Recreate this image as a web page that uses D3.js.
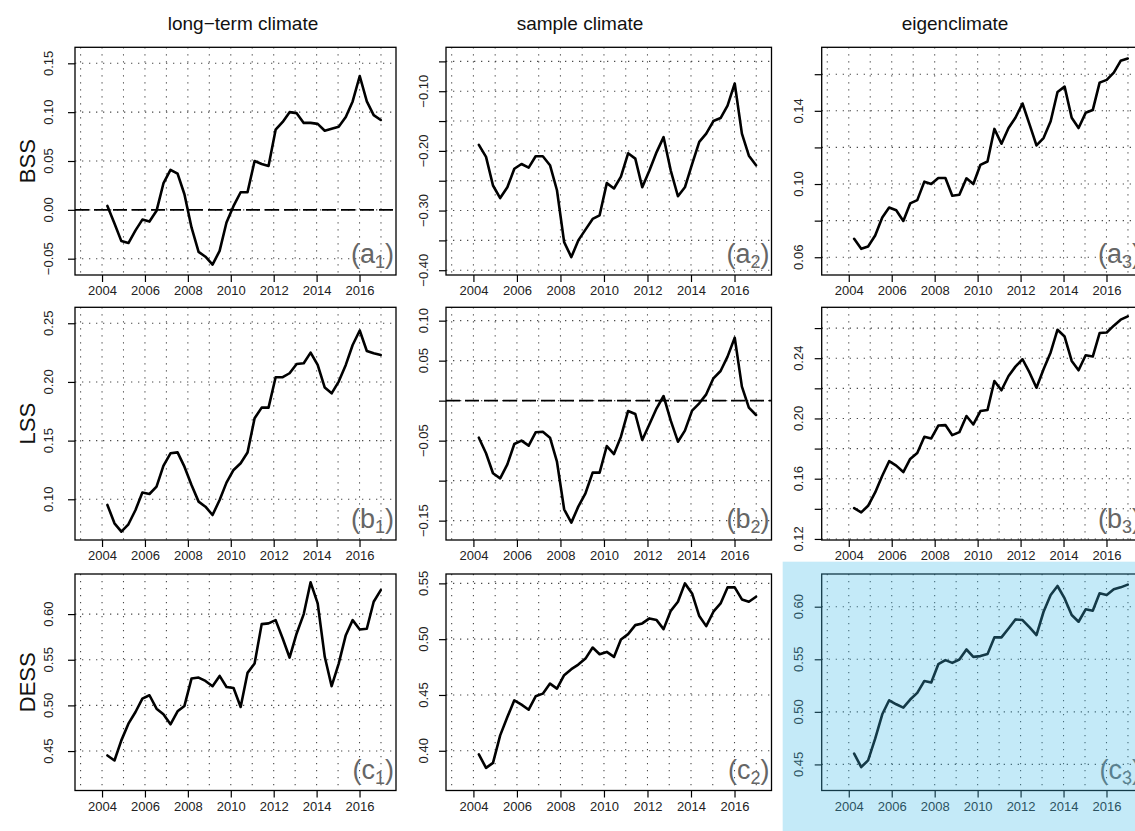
<!DOCTYPE html>
<html>
<head>
<meta charset="utf-8">
<script src="https://cdn.jsdelivr.net/npm/d3@7"></script>
<style>
  html, body { margin: 0; padding: 0; background: #fff; }
  svg { display: block; font-family: "Liberation Sans", Arial, Helvetica, sans-serif; }
</style>
</head>
<body>
<svg id="chart" width="1135" height="831"></svg>
<script>
// Time stamps of the skill scores (decimal years)
const years = [2004.25, 2004.58, 2004.90, 2005.23, 2005.56, 2005.88, 2006.21, 2006.54, 2006.86, 2007.19,
               2007.52, 2007.84, 2008.17, 2008.50, 2008.82, 2009.15, 2009.48, 2009.80, 2010.13, 2010.46,
               2010.78, 2011.11, 2011.44, 2011.76, 2012.09, 2012.42, 2012.74, 2013.07, 2013.40, 2013.72,
               2014.05, 2014.38, 2014.70, 2015.03, 2015.36, 2015.68, 2016.01, 2016.34, 2016.66, 2016.99];

// Brier skill score
const bssLong = [0.004, -0.014, -0.032, -0.034, -0.021, -0.010, -0.012, -0.001, 0.027, 0.041,
                 0.037, 0.016, -0.018, -0.043, -0.048, -0.056, -0.042, -0.013, 0.004, 0.018,
                 0.018, 0.050, 0.047, 0.045, 0.082, 0.090, 0.100, 0.099, 0.089, 0.089,
                 0.088, 0.081, 0.083, 0.085, 0.095, 0.111, 0.137, 0.111, 0.097, 0.092];
const bssSample = [-0.190, -0.210, -0.258, -0.279, -0.261, -0.230, -0.222, -0.228, -0.209, -0.209,
                   -0.224, -0.266, -0.353, -0.378, -0.350, -0.332, -0.314, -0.308, -0.254, -0.263,
                   -0.243, -0.204, -0.213, -0.261, -0.233, -0.202, -0.177, -0.233, -0.276, -0.261,
                   -0.222, -0.185, -0.171, -0.150, -0.145, -0.124, -0.087, -0.171, -0.208, -0.224];
const bssEigen = [0.0701, 0.0646, 0.0659, 0.0719, 0.0817, 0.0872, 0.0857, 0.0798, 0.0894, 0.0912,
                  0.1013, 0.1000, 0.1033, 0.1033, 0.0936, 0.0941, 0.1031, 0.1000, 0.1105, 0.1123,
                  0.1301, 0.1220, 0.1306, 0.1362, 0.1440, 0.1325, 0.1211, 0.1251, 0.1343, 0.1503,
                  0.1532, 0.1362, 0.1306, 0.1389, 0.1404, 0.1554, 0.1569, 0.1609, 0.1673, 0.1686];

// Logarithmic skill score
const lssLong = [0.0952, 0.0795, 0.0724, 0.0787, 0.0909, 0.1057, 0.1045, 0.1108, 0.1284, 0.1392,
                 0.1400, 0.1278, 0.1122, 0.0980, 0.0937, 0.0866, 0.0994, 0.1142, 0.1250, 0.1307,
                 0.1398, 0.1690, 0.1781, 0.1781, 0.2040, 0.2040, 0.2074, 0.2153, 0.2159, 0.2250,
                 0.2145, 0.1952, 0.1903, 0.2003, 0.2145, 0.2315, 0.2438, 0.2264, 0.2244, 0.2230];
const lssSample = [-0.0463, -0.0658, -0.0908, -0.0971, -0.0796, -0.0542, -0.0500, -0.0563, -0.0396, -0.0388,
                   -0.0463, -0.0763, -0.1358, -0.1525, -0.1325, -0.1158, -0.0900, -0.0900, -0.0567, -0.0667,
                   -0.0450, -0.0129, -0.0167, -0.0492, -0.0296, -0.0096, 0.0058, -0.0250, -0.0513, -0.0375,
                   -0.0125, -0.0033, 0.0079, 0.0279, 0.0371, 0.0550, 0.0788, 0.0175, -0.0088, -0.0179];
const lssEigen = [0.1404, 0.1376, 0.1420, 0.1509, 0.1620, 0.1716, 0.1687, 0.1644, 0.1731, 0.1771,
                  0.1878, 0.1867, 0.1953, 0.1956, 0.1889, 0.1909, 0.2016, 0.1960, 0.2049, 0.2056,
                  0.2249, 0.2187, 0.2282, 0.2344, 0.2393, 0.2304, 0.2204, 0.2327, 0.2438, 0.2589,
                  0.2544, 0.2382, 0.2320, 0.2420, 0.2411, 0.2567, 0.2571, 0.2616, 0.2656, 0.2678];

// Dawid-Sebastiani (energy) skill score
const dessLong = [0.4452, 0.4397, 0.4617, 0.4800, 0.4928, 0.5074, 0.5111, 0.4964, 0.4902, 0.4793,
                  0.4935, 0.4994, 0.5294, 0.5305, 0.5268, 0.5210, 0.5323, 0.5202, 0.5191, 0.4983,
                  0.5356, 0.5458, 0.5890, 0.5898, 0.5934, 0.5733, 0.5524, 0.5788, 0.6000, 0.6348,
                  0.6117, 0.5532, 0.5210, 0.5458, 0.5769, 0.5934, 0.5832, 0.5839, 0.6135, 0.6263];
const dessSample = [0.3967, 0.3847, 0.3892, 0.4138, 0.4302, 0.4452, 0.4413, 0.4368, 0.4488, 0.4512,
                    0.4602, 0.4557, 0.4677, 0.4731, 0.4772, 0.4826, 0.4925, 0.4865, 0.4886, 0.4841,
                    0.4997, 0.5045, 0.5126, 0.5141, 0.5186, 0.5171, 0.5090, 0.5254, 0.5335, 0.5500,
                    0.5410, 0.5207, 0.5117, 0.5246, 0.5320, 0.5464, 0.5464, 0.5356, 0.5335, 0.5380];
const dessEigen = [0.4602, 0.4475, 0.4538, 0.4745, 0.4977, 0.5110, 0.5072, 0.5040, 0.5117, 0.5180,
                   0.5294, 0.5279, 0.5453, 0.5492, 0.5466, 0.5498, 0.5593, 0.5523, 0.5530, 0.5549,
                   0.5708, 0.5708, 0.5793, 0.5879, 0.5873, 0.5803, 0.5730, 0.5952, 0.6111, 0.6197,
                   0.6079, 0.5921, 0.5857, 0.5975, 0.5962, 0.6127, 0.6111, 0.6165, 0.6184, 0.6210];

// Axis ticks and labels
const xTicks = [2004, 2006, 2008, 2010, 2012, 2014, 2016];
const gridYears = [2003, 2004, 2005, 2006, 2007, 2008, 2009, 2010, 2011, 2012, 2013, 2014, 2015, 2016, 2017];
const columnTitles = ["long\u2212term climate", "sample climate", "eigenclimate"];
const rowTitles = ["BSS", "LSS", "DESS"];
const panelLetters = ["a", "b", "c"];

// per panel: series, y limits, ticks, which tick labels are printed, reference line
const panels = [
  { row: 0, col: 0, values: bssLong,    ylim: [-0.0667, 0.1664], ticks: [-0.05, 0, 0.05, 0.10, 0.15],
    labels: ["\u22120.05", "0.00", "0.05", "0.10", "0.15"], zero: true },
  { row: 0, col: 1, values: bssSample,  ylim: [-0.408, -0.0264], ticks: [-0.40, -0.35, -0.30, -0.25, -0.20, -0.15, -0.10, -0.05],
    labels: ["\u22120.40", "", "\u22120.30", "", "\u22120.20", "", "\u22120.10", ""], zero: false },
  { row: 0, col: 2, values: bssEigen,   ylim: [0.0503, 0.1747], ticks: [0.06, 0.08, 0.10, 0.12, 0.14, 0.16],
    labels: ["0.06", "", "0.10", "", "0.14", ""], zero: false },
  { row: 1, col: 0, values: lssLong,    ylim: [0.0653, 0.2636], ticks: [0.10, 0.15, 0.20, 0.25],
    labels: ["0.10", "0.15", "0.20", "0.25"], zero: false },
  { row: 1, col: 1, values: lssSample,  ylim: [-0.1742, 0.1167], ticks: [-0.15, -0.10, -0.05, 0, 0.05, 0.10],
    labels: ["\u22120.15", "", "\u22120.05", "", "0.05", "0.10"], zero: true },
  { row: 1, col: 2, values: lssEigen,   ylim: [0.1193, 0.2738], ticks: [0.12, 0.14, 0.16, 0.18, 0.20, 0.22, 0.24, 0.26],
    labels: ["0.12", "", "0.16", "", "0.20", "", "0.24", ""], zero: false },
  { row: 2, col: 0, values: dessLong,   ylim: [0.4068, 0.6439], ticks: [0.45, 0.50, 0.55, 0.60],
    labels: ["0.45", "0.50", "0.55", "0.60"], zero: false },
  { row: 2, col: 1, values: dessSample, ylim: [0.3644, 0.5584], ticks: [0.40, 0.45, 0.50, 0.55],
    labels: ["0.40", "0.45", "0.50", "0.55"], zero: false },
  { row: 2, col: 2, values: dessEigen,  ylim: [0.4252, 0.6311], ticks: [0.45, 0.50, 0.55, 0.60],
    labels: ["0.45", "0.50", "0.55", "0.60"], zero: false }
];

// ---- layout ----
const W = 1135, H = 831;
const xlim = [2002.74, 2017.70];
const colBox = [[75, 396], [446, 771.5], [821.7, 1143]];
const rowBox = [[47.3, 275], [307.3, 540], [574, 790.5]];
const yLabelGap = [27, 23, 23];
const titleX = [243, 580, 955];

const svg = d3.select("#chart");
svg.append("rect").attr("width", W).attr("height", H).attr("fill", "#fff");

const defs = svg.append("defs");

columnTitles.forEach((t, i) => {
  svg.append("text")
    .attr("x", titleX[i]).attr("y", 30)
    .attr("text-anchor", "middle")
    .attr("font-size", 19).attr("fill", "#111")
    .text(t);
});

rowTitles.forEach((t, i) => {
  const cy = (rowBox[i][0] + rowBox[i][1]) / 2;
  svg.append("text")
    .attr("transform", `translate(27,${cy}) rotate(-90)`)
    .attr("text-anchor", "middle").attr("dominant-baseline", "central")
    .attr("font-size", 22).attr("fill", "#111")
    .text(t);
});

panels.forEach((p, idx) => {
  const [x0, x1] = colBox[p.col];
  const [y0, y1] = rowBox[p.row];
  const x = d3.scaleLinear().domain(xlim).range([x0, x1]);
  const y = d3.scaleLinear().domain(p.ylim).range([y1, y0]);
  const g = svg.append("g");

  const clipId = "clip" + idx;
  defs.append("clipPath").attr("id", clipId)
    .append("rect").attr("x", x0).attr("y", y0).attr("width", x1 - x0).attr("height", y1 - y0);
  const inner = g.append("g").attr("clip-path", `url(#${clipId})`);

  // dotted grid
  const dotted = { stroke: "#4a4a4a", width: 1.1, dash: "1.3,5.7" };
  inner.selectAll("line.vg").data(gridYears).join("line")
    .attr("x1", d => x(d)).attr("x2", d => x(d))
    .attr("y1", y0).attr("y2", y1)
    .attr("stroke", dotted.stroke).attr("stroke-width", dotted.width)
    .attr("stroke-dasharray", dotted.dash);
  inner.selectAll("line.hg").data(p.ticks).join("line")
    .attr("x1", x0).attr("x2", x1)
    .attr("y1", d => y(d)).attr("y2", d => y(d))
    .attr("stroke", dotted.stroke).attr("stroke-width", dotted.width)
    .attr("stroke-dasharray", dotted.dash);

  if (p.zero) {
    inner.append("line")
      .attr("x1", x0).attr("x2", x1).attr("y1", y(0)).attr("y2", y(0))
      .attr("stroke", "#000").attr("stroke-width", 1.6)
      .attr("stroke-dasharray", "14,5");
  }

  // series
  const line = d3.line().x((d, i) => x(years[i])).y(d => y(d));
  inner.append("path").datum(p.values)
    .attr("d", line)
    .attr("fill", "none").attr("stroke", "#000")
    .attr("stroke-width", 2.6).attr("stroke-linejoin", "round").attr("stroke-linecap", "round");

  // box
  g.append("rect").attr("x", x0).attr("y", y0).attr("width", x1 - x0).attr("height", y1 - y0)
    .attr("fill", "none").attr("stroke", "#000").attr("stroke-width", 1.3);

  // x axis
  const xa = d3.axisBottom(x).tickValues(xTicks).tickFormat(d3.format("d")).tickSize(7).tickPadding(4);
  const gx = g.append("g").attr("transform", `translate(0,${y1})`).call(xa);
  gx.select(".domain").remove();
  gx.selectAll(".tick line").attr("stroke", "#000").attr("stroke-width", 1.2);
  gx.selectAll(".tick text").attr("font-size", 13).attr("fill", "#222")
    .attr("font-family", "Liberation Sans, Arial, sans-serif");

  // y axis (labels parallel to the axis)
  const ya = d3.axisLeft(y).tickValues(p.ticks).tickSize(7).tickFormat(() => "");
  const gy = g.append("g").attr("transform", `translate(${x0},0)`).call(ya);
  gy.select(".domain").remove();
  gy.selectAll(".tick line").attr("stroke", "#000").attr("stroke-width", 1.2);
  g.selectAll("text.ylab").data(p.ticks.map((t, i) => ({ t, s: p.labels[i] })).filter(d => d.s !== ""))
    .join("text")
    .attr("transform", d => `translate(${x0 - yLabelGap[p.col]},${y(d.t)}) rotate(-90)`)
    .attr("text-anchor", "middle").attr("dominant-baseline", "central")
    .attr("font-size", 13).attr("fill", "#222")
    .text(d => d.s);

  // panel tag, e.g. (a1)
  const tag = g.append("text")
    .attr("x", x1 - 2).attr("y", y1 - 12)
    .attr("text-anchor", "end")
    .attr("font-size", 27).attr("fill", "#666");
  tag.append("tspan").text("(" + panelLetters[p.row]);
  tag.append("tspan").attr("font-size", 18).attr("dy", 5).text(String(p.col + 1));
  tag.append("tspan").attr("dy", -5).text(")");
});

// highlight of the eigenclimate DESS panel
svg.append("rect")
  .attr("x", 782.7).attr("y", 561.7)
  .attr("width", W - 782.7).attr("height", H - 561.7)
  .attr("fill", "rgb(65,187,232)").attr("fill-opacity", 0.31);
</script>
</body>
</html>
